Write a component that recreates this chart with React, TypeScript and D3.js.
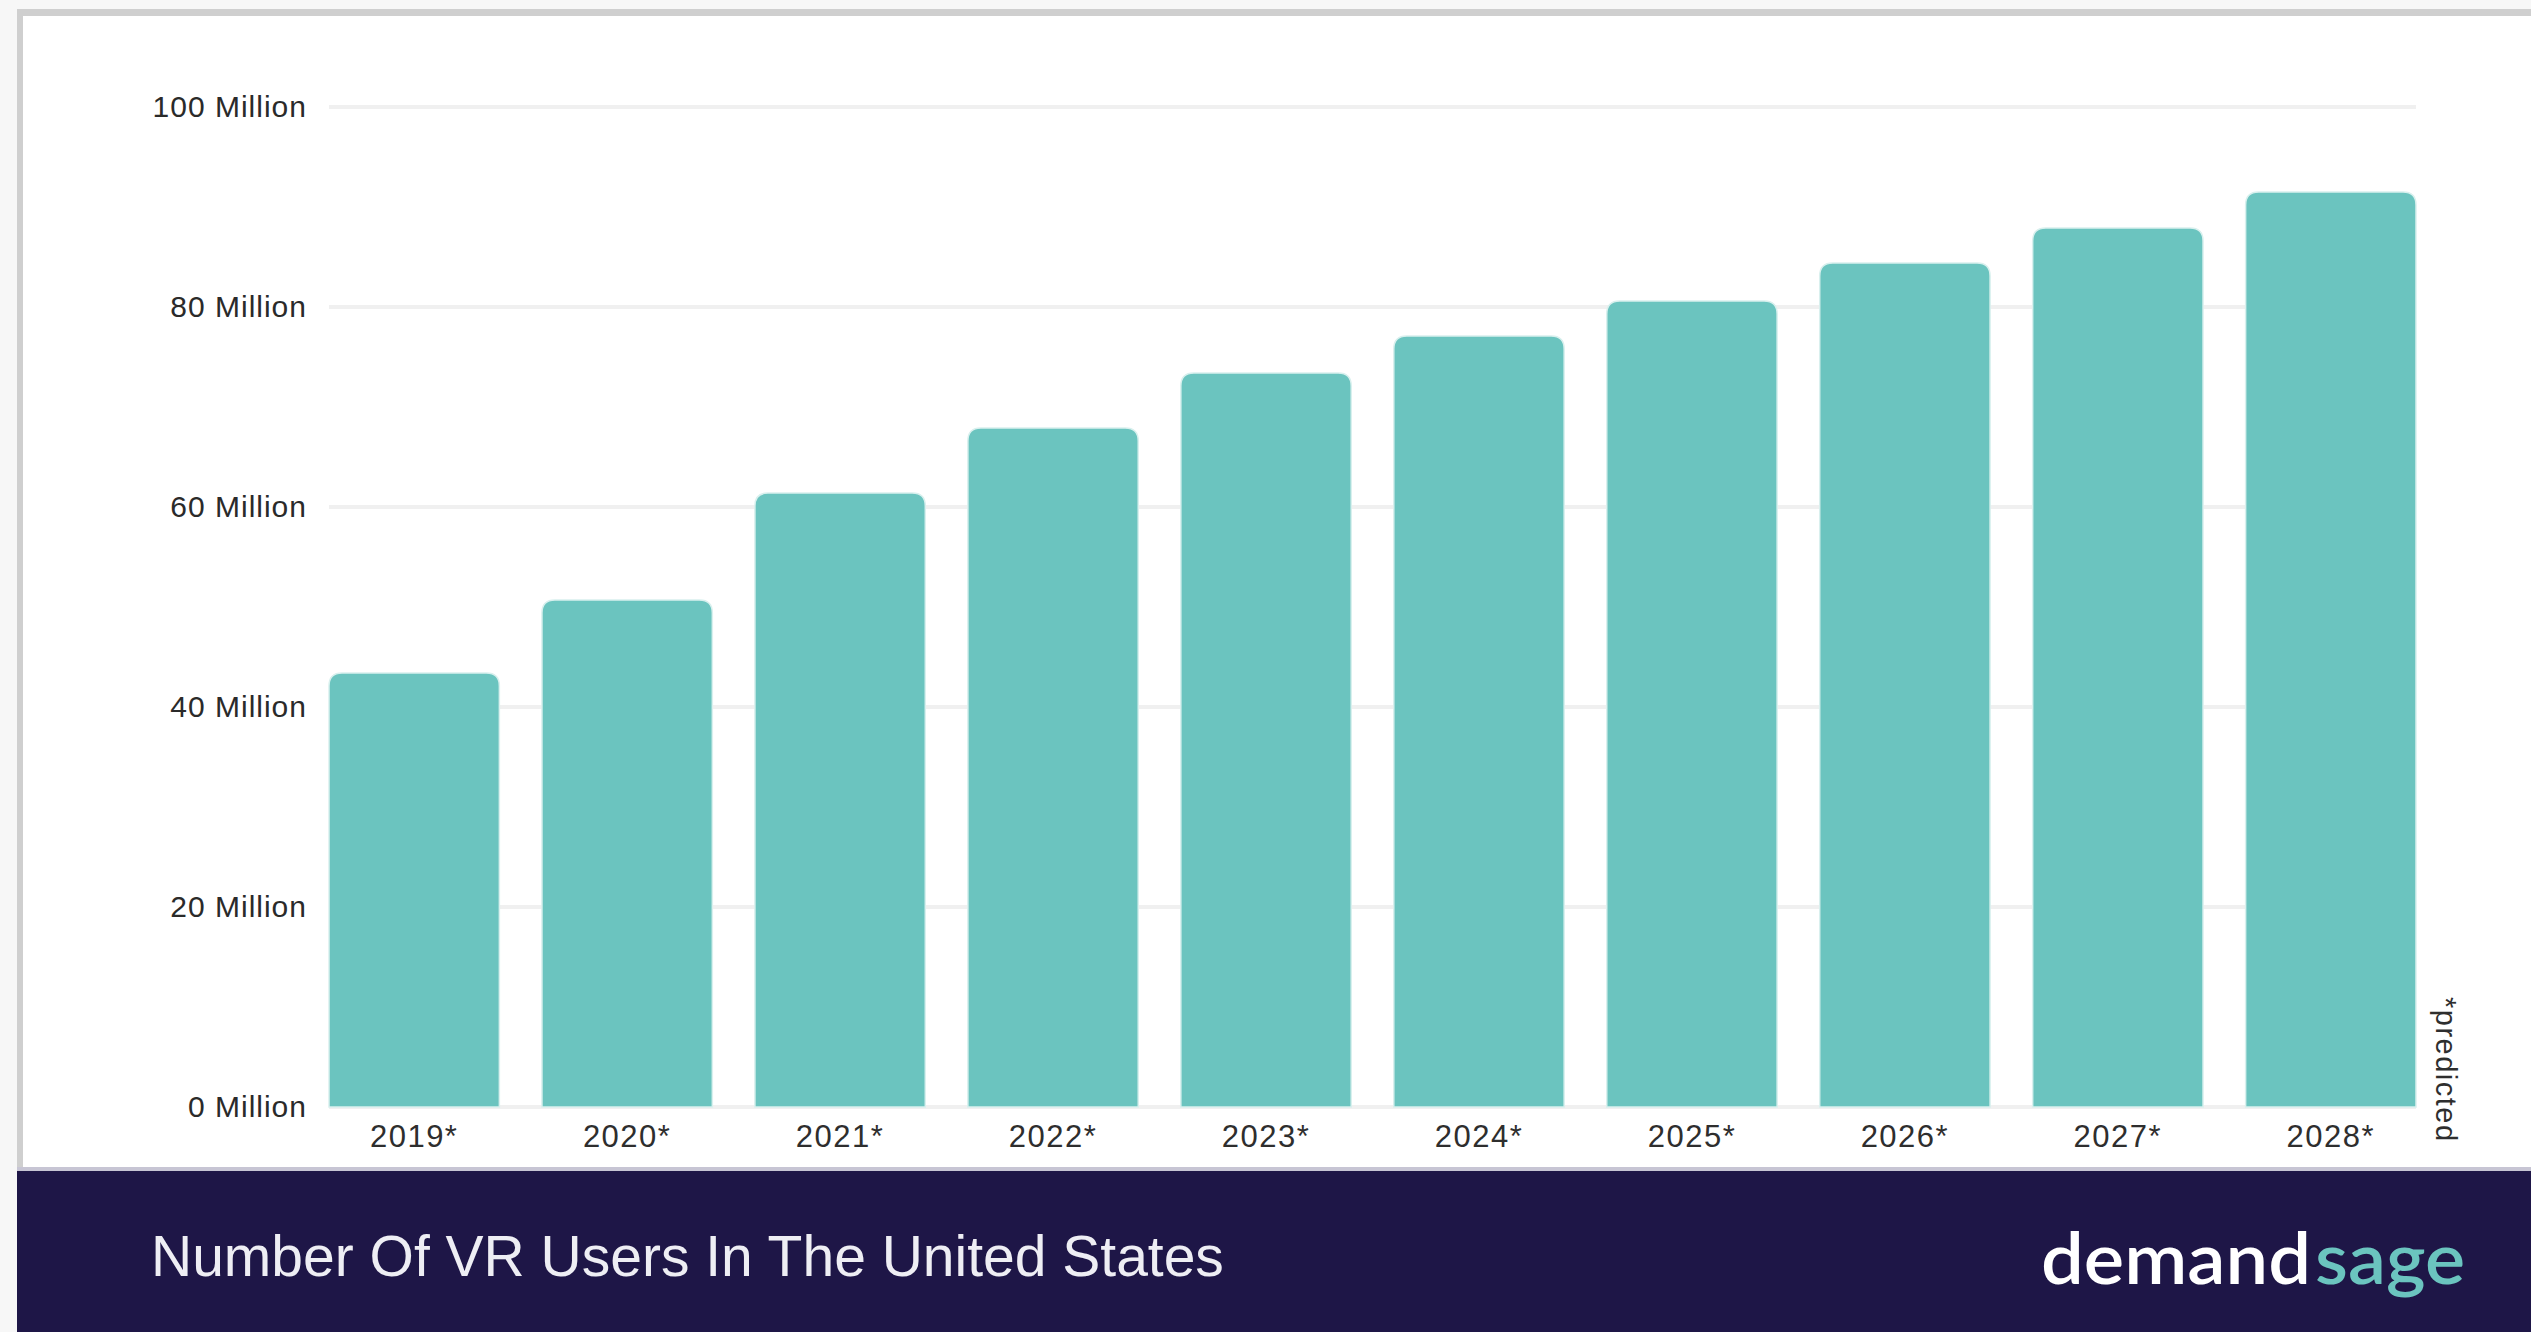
import React from "react";
import * as d3 from "d3";

const years = ["2019*", "2020*", "2021*", "2022*", "2023*", "2024*", "2025*", "2026*", "2027*", "2028*"];
const users = [43.4, 50.7, 61.4, 67.9, 73.4, 77.1, 80.6, 84.4, 87.9, 91.5];
const yTicks = [0, 20, 40, 60, 80, 100];
const title = "Number Of VR Users In The United States";
const note = "*predicted";

const W = 2531;
const H = 1332;

function topRoundedBar(x: number, y: number, w: number, h: number, r: number) {
  const rr = Math.min(r, h, w / 2);
  const p = d3.path();
  p.moveTo(x, y + h);
  p.lineTo(x, y + rr);
  p.quadraticCurveTo(x, y, x + rr, y);
  p.lineTo(x + w - rr, y);
  p.quadraticCurveTo(x + w, y, x + w, y + rr);
  p.lineTo(x + w, y + h);
  p.closePath();
  return p.toString();
}

export default function App() {
  const x = d3.scaleBand<string>().domain(years).range([329, 2416]).paddingInner(0.2).paddingOuter(0);
  const y = d3.scaleLinear().domain([0, 100]).range([1107, 107]);
  const font = "'Liberation Sans', Arial, Helvetica, sans-serif";

  return (
    <svg
      width={W}
      height={H}
      viewBox={`0 0 ${W} ${H}`}
      style={{ position: "absolute", left: 0, top: 0, display: "block" }}
    >
      <rect x={0} y={0} width={W} height={H} fill="#f7f7f7" />
      <rect x={17} y={9} width={W - 17} height={H - 9} fill="#ffffff" />
      {/* frame borders */}
      <rect x={17} y={9} width={W - 17} height={7} fill="#cfcfcf" />
      <rect x={17} y={9} width={6} height={1165} fill="#cfcfcf" />

      {/* gridlines */}
      {yTicks.map((t) => (
        <line
          key={"g" + t}
          x1={329}
          x2={2416}
          y1={y(t)}
          y2={y(t)}
          stroke="#f0f0f0"
          strokeWidth={4}
        />
      ))}

      {/* y labels */}
      {yTicks.map((t) => (
        <text
          key={"yl" + t}
          x={307}
          y={y(t) + 10}
          textAnchor="end"
          fontFamily={font}
          fontSize={30}
          letterSpacing={1}
          fill="#2a2a2a"
        >
          {`${t} Million`}
        </text>
      ))}

      {/* bars */}
      {years.map((yr, i) => (
        <path
          key={yr}
          d={topRoundedBar(x(yr)!, y(users[i]), x.bandwidth(), y(0) - y(users[i]), 13)}
          fill="#6bc4bf"
          stroke="#d9f0ee"
          strokeWidth={1.5}
        />
      ))}

      {/* x labels */}
      {years.map((yr) => (
        <text
          key={"xl" + yr}
          x={x(yr)! + x.bandwidth() / 2}
          y={1147}
          textAnchor="middle"
          fontFamily={font}
          fontSize={31}
          letterSpacing={1.5}
          fill="#2e2e2e"
        >
          {yr}
        </text>
      ))}

      {/* predicted note */}
      <text
        transform="translate(2436,997) rotate(90)"
        fontFamily={font}
        fontSize={29}
        letterSpacing={1.5}
        fill="#2e2e2e"
      >
        {note}
      </text>

      {/* footer */}
      <rect x={17} y={1167} width={W - 17} height={H - 1167} fill="#c7c5d4" />
      <rect x={17} y={1171} width={W - 17} height={H - 1171} fill="#1e1647" />
      <text x={151} y={1276} fontFamily={font} fontSize={57} fill="#eeeef4">
        {title}
      </text>
      <text
        x={2041}
        y={1284}
        fontFamily="Lato, 'Noto Sans', sans-serif"
        fontSize={72}
        fontWeight={600}
        fill="#ffffff"
        textLength={270}
        lengthAdjust="spacingAndGlyphs"
      >
        demand
      </text>
      <text
        x={2315}
        y={1284}
        fontFamily="Lato, 'Noto Sans', sans-serif"
        fontSize={72}
        fontWeight={600}
        fill="#6bc4bf"
        textLength={150}
        lengthAdjust="spacingAndGlyphs"
      >
        sage
      </text>
    </svg>
  );
}
